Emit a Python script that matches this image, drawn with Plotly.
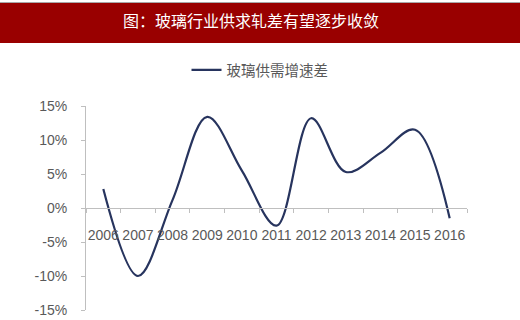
import plotly.graph_objects as go

years = ["2006", "2007", "2008", "2009", "2010", "2011", "2012", "2013", "2014", "2015", "2016"]
gap = [2.8, -10.0, 1.2, 13.4, 5.5, -2.6, 13.2, 5.3, 8.1, 11.5, -1.5]
series_name = "玻璃供需增速差"
title_text = "图：玻璃行业供求轧差有望逐步收敛"
y_ticks = [-15, -10, -5, 0, 5, 10, 15]

W, H = 520, 320
L, R, T, B = 86, 53, 106, 10
pw, ph = W - L - R, H - T - B

def px_x(p):
    return (p - L) / pw

def px_y(p):
    return (H - B - p) / ph

fig = go.Figure()
fig.add_trace(go.Scatter(
    x=years, y=gap, mode="lines", name=series_name,
    line=dict(color="#27345e", width=2.2, shape="spline", smoothing=1.0),
))

fig.update_layout(
    width=W, height=H,
    margin=dict(l=L, r=R, t=T, b=B, autoexpand=False),
    paper_bgcolor="white", plot_bgcolor="white",
    showlegend=True,
    legend=dict(orientation="h", x=px_x(260), xanchor="center", y=px_y(70), yanchor="middle",
                font=dict(family="Noto Sans CJK SC", size=14.5, color="#595959"),
                bgcolor="rgba(0,0,0,0)"),
    xaxis=dict(type="category", anchor="free", position=0.5, range=[-0.5, 10.5],
               automargin=False,
               showline=True, linecolor="#bfbfbf", linewidth=1,
               ticks="outside", tickson="boundaries", ticklen=4, tickcolor="#bfbfbf",
               showgrid=False, zeroline=False, tickangle=0,
               tickfont=dict(family="Liberation Sans, Arial", size=14, color="#595959"),
               ticklabelstandoff=14),
    yaxis=dict(range=[-15, 15], tickvals=y_ticks, ticktext=[f"{v}%" for v in y_ticks],
               automargin=False,
               showline=True, linecolor="#bfbfbf", linewidth=1,
               ticks="outside", ticklen=4, tickcolor="#bfbfbf",
               showgrid=False, zeroline=False,
               tickfont=dict(family="Liberation Sans, Arial", size=14, color="#595959"),
               ticklabelstandoff=11),
    shapes=[
        dict(type="rect", xref="paper", yref="paper", x0=px_x(0), x1=px_x(W),
             y0=px_y(43), y1=px_y(3), fillcolor="#990000", line=dict(width=0), layer="below"),
        dict(type="line", xref="paper", yref="paper", x0=px_x(0), x1=px_x(W),
             y0=px_y(2.5), y1=px_y(2.5), line=dict(color="#a8a8a8", width=1)),
    ],
    annotations=[
        dict(text=title_text, xref="paper", yref="paper", x=px_x(251), y=px_y(20),
             xanchor="center", yanchor="middle", showarrow=False,
             font=dict(family="Noto Sans CJK SC", size=16, color="white")),
    ],
)

fig.write_html("out.html")
